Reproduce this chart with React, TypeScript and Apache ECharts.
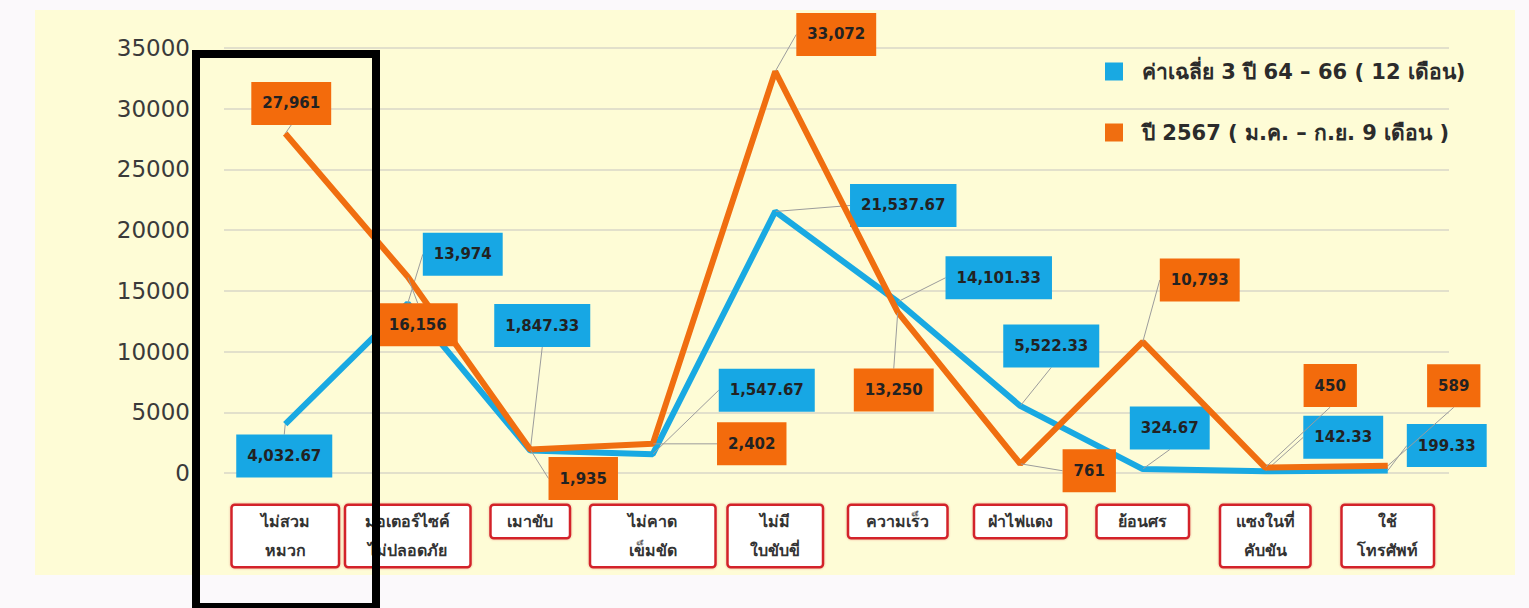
import React, { useEffect, useRef } from "react";
import * as echarts from "echarts";

const categories = [
  "ไม่สวม\nหมวก",
  "มอเตอร์ไซค์\nไม่ปลอดภัย",
  "เมาขับ",
  "ไม่คาด\nเข็มขัด",
  "ไม่มี\nใบขับขี่",
  "ความเร็ว",
  "ฝ่าไฟแดง",
  "ย้อนศร",
  "แซงในที่\nคับขัน",
  "ใช้\nโทรศัพท์",
];

const seriesNames = [
  "ค่าเฉลี่ย 3 ปี 64 – 66 ( 12 เดือน)",
  "ปี 2567 ( ม.ค. – ก.ย. 9 เดือน )",
];

const avg3Years = [4032.67, 13974, 1847.33, 1547.67, 21537.67, 14101.33, 5522.33, 324.67, 142.33, 199.33];
const year2567 = [27961, 16156, 1935, 2402, 33072, 13250, 761, 10793, 450, 589];

const yMin = 0;
const yMax = 35000;
const yStep = 5000;

// layout-only settings (label offsets from their points, box widths of category labels)
const blueLabelOffsets = [
  [-1, 32], [55, -49], [12, -125], [114, -64], [128, -6],
  [101, -24], [31, -60], [27, -41], [78, -34], [59, -25],
];
const orangeLabelOffsets = [
  [6, -30], [10, 48], [53, 29], [99, 0], [61, -37],
  [-4, 78], [69, 7], [57, -62], [65, -82], [66, -80],
];
const catBoxWidths = [105, 123, 77, 123, 93, 97, 90, 90, 88, 90];

const BLUE = "#19A9E2";
const ORANGE = "#F06E10";
const FONT = "Tahoma, 'DejaVu Sans', 'Noto Sans', sans-serif";

const fmt = (v: number) =>
  v.toLocaleString("en-US", { minimumFractionDigits: 0, maximumFractionDigits: 2 });

const makeLayout = (offsets: number[][]) => (params: any) => {
  const i = params.dataIndex;
  const [dx, dy] = offsets[i];
  const r = params.rect;
  const L = params.labelRect;
  const cx = r.x + r.width / 2;
  const cy = r.y + r.height / 2;
  const lx = L.x + dx;
  const ly = L.y + dy;
  const lw = L.width;
  const lh = L.height;
  const lcy = ly + lh / 2;
  let pts: number[][];
  if (cx >= lx && cx <= lx + lw) {
    const ey = cy < ly ? ly : cy > ly + lh ? ly + lh : cy;
    pts = [[cx, cy], [cx, (cy + ey) / 2], [cx, ey]];
  } else if (cx < lx) {
    pts = [[cx, cy], [lx - 10, lcy], [lx, lcy]];
  } else {
    pts = [[cx, cy], [lx + lw + 10, lcy], [lx + lw, lcy]];
  }
  return { dx, dy, labelLinePoints: pts };
};

const valueLabel = (bg: string) => ({
  show: true,
  position: "inside",
  formatter: (p: any) => fmt(p.value),
  backgroundColor: bg,
  color: "#222222",
  fontFamily: FONT,
  fontSize: 15,
  fontWeight: "bold",
  lineHeight: 19,
  padding: [12, 11],
});

export default function App() {
  const ref = useRef<HTMLDivElement>(null);

  useEffect(() => {
    if (!ref.current) return;
    const chart = echarts.init(ref.current, null, { renderer: "svg" });
    chart.setOption({
      animation: false,
      backgroundColor: "transparent",
      textStyle: { fontFamily: FONT },
      legend: {
        orient: "vertical",
        left: 1100,
        top: 56,
        itemWidth: 18,
        itemHeight: 18,
        itemGap: 40,
        icon: "rect",
        textStyle: {
          fontFamily: FONT,
          fontSize: 21,
          fontWeight: "bold",
          lineHeight: 20,
          color: "#2b2b2b",
          padding: [0, 0, 0, 14],
        },
        data: seriesNames,
      },
      grid: { left: 224, right: 80, top: 48, bottom: 135, containLabel: false },
      xAxis: {
        type: "category",
        data: categories.map((c, i) => ({
          value: c,
          textStyle: { width: catBoxWidths[i] - 12 },
        })),
        axisLine: { show: false },
        axisTick: { show: false },
        axisLabel: {
          interval: 0,
          margin: 33,
          fontFamily: FONT,
          fontSize: 16,
          fontWeight: "bold",
          color: "#333333",
          lineHeight: 29,
          align: "center",
          backgroundColor: "#ffffff",
          borderColor: "#D3242B",
          borderWidth: 2.5,
          borderRadius: 2,
          padding: [1, 6],
          shadowColor: "rgba(200,40,40,0.35)",
          shadowBlur: 2,
        },
      },
      yAxis: {
        type: "value",
        min: yMin,
        max: yMax,
        interval: yStep,
        axisLine: { show: false },
        axisTick: { show: false },
        axisLabel: {
          fontFamily: FONT,
          fontSize: 23,
          color: "#3a3a3a",
          margin: 34,
          formatter: (v: number) => String(v),
        },
        splitLine: { lineStyle: { color: "#E2E0CB", width: 2 } },
      },
      series: [
        {
          name: seriesNames[0],
          type: "line",
          data: avg3Years,
          symbol: "circle",
          symbolSize: 1,
          showSymbol: true,
          itemStyle: { color: BLUE },
          lineStyle: { color: BLUE, width: 6 },
          label: valueLabel("#17A7E4"),
          labelLine: { show: true, lineStyle: { color: "#9C9C9C", width: 1 } },
          labelLayout: makeLayout(blueLabelOffsets),
          z: 2,
        },
        {
          name: seriesNames[1],
          type: "line",
          data: year2567,
          symbol: "circle",
          symbolSize: 1,
          showSymbol: true,
          itemStyle: { color: ORANGE },
          lineStyle: { color: ORANGE, width: 6 },
          label: valueLabel("#F36B0C"),
          labelLine: { show: true, lineStyle: { color: "#9C9C9C", width: 1 } },
          labelLayout: makeLayout(orangeLabelOffsets),
          z: 3,
        },
      ],
    });
    return () => chart.dispose();
  }, []);

  return (
    <div style={{ position: "absolute", left: 0, top: 0, width: 1529, height: 608, background: "#FBF9FB", overflow: "hidden" }}>
      <div style={{ position: "absolute", left: 35, top: 10, width: 1480, height: 565, background: "#FEFCD6" }} />
      <div ref={ref} style={{ position: "absolute", left: 0, top: 0, width: 1529, height: 608 }} />
      <div
        style={{
          position: "absolute",
          left: 192,
          top: 50,
          width: 188,
          height: 561,
          border: "8px solid #000",
          boxSizing: "border-box",
          pointerEvents: "none",
        }}
      />
    </div>
  );
}
